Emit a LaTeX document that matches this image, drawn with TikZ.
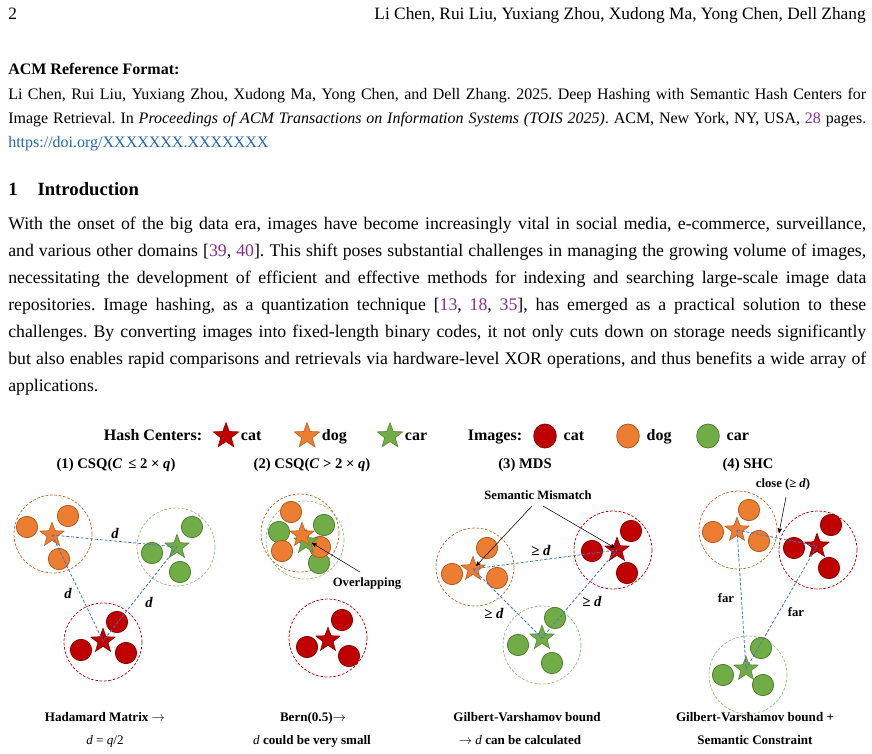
\documentclass[tikz,border=0pt]{standalone}
\usepackage{fontspec}
\setmainfont{Liberation Serif}
\usetikzlibrary{arrows,shapes.geometric,positioning}
\frenchspacing

\definecolor{catred}{HTML}{C00000}
\definecolor{dogorange}{HTML}{ED7D31}
\definecolor{cargreen}{HTML}{70AD47}
\definecolor{linkblue}{HTML}{4472C4}
\definecolor{citepurple}{HTML}{8A2C8C}
\definecolor{doiblue}{HTML}{2467AE}

\newcommand{\cit}[1]{\textcolor{citepurple}{#1}}
\newcommand{\jline}[1]{\makebox[643.5pt][s]{#1}}

\begin{document}
\begin{tikzpicture}[x=0.75pt,y=-0.75pt,>=stealth',
    body/.style={anchor=base west,inner sep=0pt,font=\fontsize{13.3}{16}\selectfont},
    refline/.style={anchor=base west,inner sep=0pt,font=\fontsize{12}{14}\selectfont},
    dot/.style={circle,draw=#1!72!black,fill=#1,minimum size=16pt,inner sep=0pt,line width=0.6pt},
    hc/.style={star,star points=5,star point ratio=2.4,fill=#1,draw=#1!80!black,minimum size=19pt,inner sep=0pt,line width=0.5pt},
    ring/.style={circle,draw=#1,dash pattern=on 2pt off 1.3pt,minimum size=58.5pt,inner sep=0pt,line width=0.55pt},
    link/.style={draw=linkblue,dash pattern=on 2.2pt off 1.4pt,line width=0.6pt},
    legend text/.style={font=\fontsize{12}{14}\selectfont\bfseries,inner sep=1pt,text height=8pt,text depth=2pt},
    panel title/.style={anchor=base,inner sep=0pt,font=\fontsize{11}{13}\selectfont\bfseries},
    tag/.style={inner sep=1pt,font=\fontsize{9.5}{11}\selectfont\bfseries},
    dist/.style={inner sep=1pt,font=\fontsize{11}{13}\selectfont\bfseries\itshape},
    caption/.style={anchor=base,inner sep=0pt,font=\fontsize{9.8}{11}\selectfont\bfseries}]
\useasboundingbox (0,0) rectangle (872,754);

% running head
\node[anchor=base west,inner sep=0pt,font=\fontsize{13}{15}\selectfont] (pageno) at (8,19) {2};
\node[anchor=base east,inner sep=0pt,font=\fontsize{13}{15}\selectfont] (runhead) at (866,19)
  {Li Chen, Rui Liu, Yuxiang Zhou, Xudong Ma, Yong Chen, Dell Zhang};

% reference format
\node[refline,font=\fontsize{12}{14}\selectfont\bfseries] (acm) at (8,74) {ACM Reference Format:};
\node[refline] (ref1) at (8,99) {\jline{Li Chen, Rui Liu, Yuxiang Zhou, Xudong Ma, Yong Chen, and Dell Zhang. 2025. Deep Hashing with Semantic Hash Centers for}};
\node[refline] (ref2) at (8,123) {\jline{Image Retrieval. In \textit{Proceedings of ACM Transactions on Information Systems (TOIS 2025)}. ACM, New York, NY, USA, \cit{28} pages.}};
\node[refline,text=doiblue] (doi) at (8,147) {https://doi.org/XXXXXXX.XXXXXXX};

% section
\node[anchor=base west,inner sep=0pt,font=\fontsize{14}{16}\selectfont\bfseries] (sec) at (8,195) {1\hspace{15pt}Introduction};
\foreach \ln [count=\i from 0] in {
  {With the onset of the big data era, images have become increasingly vital in social media, e-commerce, surveillance,},
  {and various other domains [\cit{39}, \cit{40}]. This shift poses substantial challenges in managing the growing volume of images,},
  {necessitating the development of efficient and effective methods for indexing and searching large-scale image data},
  {repositories. Image hashing, as a quantization technique [\cit{13}, \cit{18}, \cit{35}], has emerged as a practical solution to these},
  {challenges. By converting images into fixed-length binary codes, it not only cuts down on storage needs significantly},
  {but also enables rapid comparisons and retrievals via hardware-level XOR operations, and thus benefits a wide array of}}
  \node[body] (line\i) at (8,229+27*\i) {\jline{\ln}};
\node[body] (line6) at (8,391) {applications.};

% legend
\node[legend text] (hclab) at (153,436) {Hash Centers:};
\node[hc=catred,minimum size=20pt] (lhcat) at (226,436) {};
\node[legend text,right=4pt of lhcat] (lhcatt) {cat};
\node[hc=dogorange,minimum size=20pt] (lhdog) at (307,436) {};
\node[legend text,right=4pt of lhdog] (lhdogt) {dog};
\node[hc=cargreen,minimum size=20pt] (lhcar) at (390,436) {};
\node[legend text,right=4pt of lhcar] (lhcart) {car};
\node[legend text] (imlab) at (495,436) {Images:};
\node[dot=catred,minimum width=17pt,minimum height=18pt,ellipse] (licat) at (545,436) {};
\node[legend text,right=4pt of licat] (licatt) {cat};
\node[dot=dogorange,minimum width=17pt,minimum height=18pt,ellipse] (lidog) at (628,436) {};
\node[legend text,right=4pt of lidog] (lidogt) {dog};
\node[dot=cargreen,minimum width=17pt,minimum height=18pt,ellipse] (licar) at (708,436) {};
\node[legend text,right=4pt of licar] (licart) {car};

\node[panel title] (t1) at (116,468) {(1) CSQ(\textit{C}\, ≤ 2 × \textit{q})};
\node[panel title] (t2) at (312,468) {(2) CSQ(\textit{C} > 2 × \textit{q})};
\node[panel title] (t3) at (525,468) {(3) MDS};
\node[panel title] (t4) at (748,468) {(4) SHC};

% (1) CSQ, C <= 2q
\node[ring=dogorange!85!black] (r1o) at (53,534) {};
\node[ring=cargreen!75] (r1g) at (176,547) {};
\node[ring=catred] (r1c) at (103,642) {};
\foreach \x/\y [count=\i] in {27/527,68/516,59/559} \node[dot=dogorange] (d1o\i) at (\x,\y) {};
\foreach \x/\y [count=\i] in {152/553,192/527,180/572} \node[dot=cargreen] (d1g\i) at (\x,\y) {};
\foreach \x/\y [count=\i] in {117/622,81/650,126/653} \node[dot=catred] (d1c\i) at (\x,\y) {};
\node[hc=dogorange] (s1o) at (52,535) {};
\node[hc=cargreen] (s1g) at (177,547) {};
\node[hc=catred] (s1c) at (103,641) {};
\path[link] (s1o.center) -- (s1g.center) -- (s1c.center) -- cycle;
\node[dist] (l1a) at (115,533) {d};
\node[dist] (l1b) at (68,593) {d};
\node[dist] (l1c) at (149,602) {d};

% (2) CSQ, C > 2q
\node[ring=dogorange!85!black] (r2o) at (300,533) {};
\node[ring=cargreen!75] (r2g) at (305,540) {};
\node[ring=catred] (r2c) at (328,638) {};
\foreach \x/\y [count=\i] in {279/532,324/525,319/563} \node[dot=cargreen] (d2g\i) at (\x,\y) {};
\foreach \x/\y [count=\i] in {291/512,282/551,320/547} \node[dot=dogorange] (d2o\i) at (\x,\y) {};
\foreach \x/\y [count=\i] in {342/620,307/647,349/656} \node[dot=catred] (d2c\i) at (\x,\y) {};
\node[hc=cargreen] (s2g) at (306,542) {};
\node[hc=dogorange] (s2o) at (302,535) {};
\node[hc=catred] (s2c) at (328,640) {};
\node[tag] (ovl) at (367,583) {Overlapping};
\coordinate (ovtail) at (360,572);
\draw[->,thin] (ovtail) -- (312,543);

% (3) MDS
\node[ring=dogorange!85!black] (r3o) at (475,567) {};
\node[ring=catred] (r3c) at (613,550) {};
\node[ring=cargreen!75] (r3g) at (542,645) {};
\foreach \x/\y [count=\i] in {487/548,452/574,497/578} \node[dot=dogorange] (d3o\i) at (\x,\y) {};
\foreach \x/\y [count=\i] in {592/551,631/531,627/573} \node[dot=catred] (d3c\i) at (\x,\y) {};
\foreach \x/\y [count=\i] in {555/618,518/645,552/663} \node[dot=cargreen] (d3g\i) at (\x,\y) {};
\node[hc=dogorange] (s3o) at (473,569) {};
\node[hc=catred] (s3c) at (617,550) {};
\node[hc=cargreen] (s3g) at (542,638) {};
\path[link] (s3o.center) -- (s3c.center) -- (s3g.center) -- cycle;
\node[dist] (l3a) at (541,550) {≥ d};
\node[dist] (l3b) at (494,613) {≥ d};
\node[dist] (l3c) at (592,601) {≥ d};
\node[tag] (mism) at (538,495) {Semantic Mismatch};
\coordinate (mtail1) at (532,506);
\coordinate (mtail2) at (543,506);
\draw[->,thin] (mtail1) -- (476,566);
\draw[->,thin] (mtail2) -- (615,548);

% (4) SHC
\node[ring=dogorange!85!black] (r4o) at (738,530) {};
\node[ring=catred] (r4c) at (818,550) {};
\node[ring=cargreen!75] (r4g) at (748,675) {};
\foreach \x/\y [count=\i] in {749/510,713/532,759/541} \node[dot=dogorange] (d4o\i) at (\x,\y) {};
\foreach \x/\y [count=\i] in {794/548,831/525,829/568} \node[dot=catred] (d4c\i) at (\x,\y) {};
\foreach \x/\y [count=\i] in {761/648,723/675,763/685} \node[dot=cargreen] (d4g\i) at (\x,\y) {};
\node[hc=dogorange] (s4o) at (737,530) {};
\node[hc=catred] (s4c) at (817,546) {};
\node[hc=cargreen] (s4g) at (746,669) {};
\path[link] (s4o.center) -- (s4c.center) -- (s4g.center) -- cycle;
\node[tag] (far1) at (726,598) {far};
\node[tag] (far2) at (796,612) {far};
\node[tag] (close) at (783,484) {close (≥ \textit{d})};
\coordinate (ctail) at (786,497);
\draw[->,thin] (ctail) -- (779,533);

% captions
\node[caption] (c1a) at (105,721) {Hadamard Matrix $\rightarrow$};
\node[caption] (c1b) at (105,744) {\mdseries\textit{d} = \textit{q}/2};
\node[caption] (c2a) at (313,721) {Bern(0.5)$\rightarrow$};
\node[caption] (c2b) at (312,744) {{\mdseries\textit{d}} could be very small};
\node[caption] (c3a) at (527,721) {Gilbert-Varshamov bound};
\node[caption] (c3b) at (520,744) {$\rightarrow$ {\mdseries\textit{d}} can be calculated};
\node[caption] (c4a) at (755,721) {Gilbert-Varshamov bound +};
\node[caption] (c4b) at (755,744) {Semantic Constraint};
\end{tikzpicture}
\end{document}
